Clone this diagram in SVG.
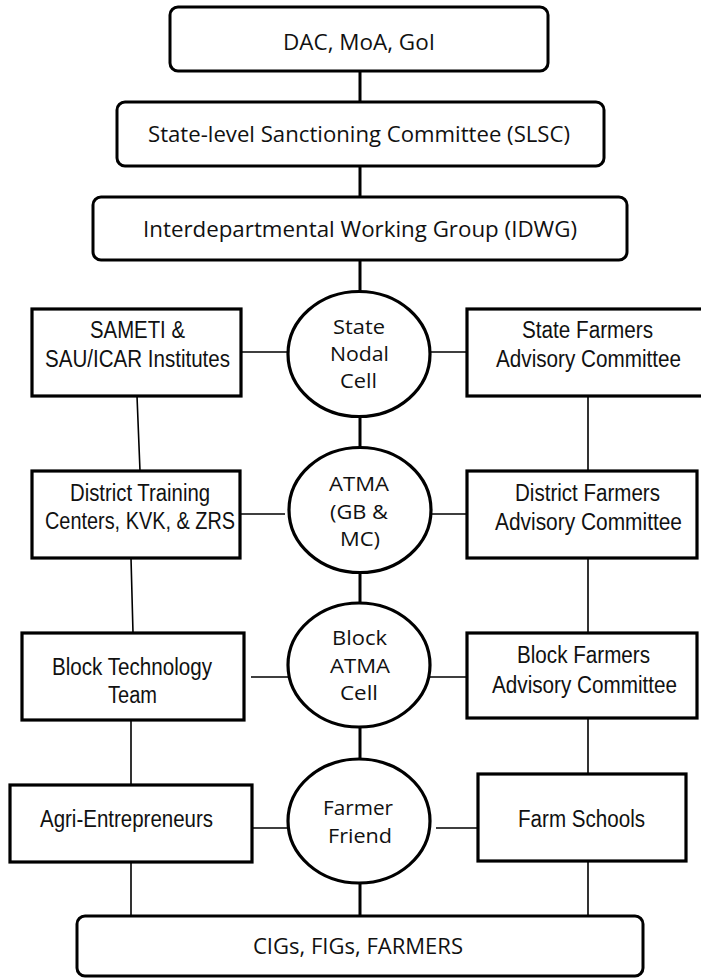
<svg xmlns="http://www.w3.org/2000/svg" width="701" height="978" viewBox="0 0 701 978">
<style>
.rbox{fill:#fff;stroke:#000;stroke-width:3}
.box{fill:#fff;stroke:#000;stroke-width:3.2}
.ell{fill:#fff;stroke:#000;stroke-width:3.2}
.main{stroke:#000;stroke-width:3;fill:none}
.side{stroke:#000;stroke-width:1.6;fill:none}
.c{font-family:"Open Sans","Noto Sans","DejaVu Sans",sans-serif;font-size:22px;fill:#111}
.e{font-family:"Open Sans","Noto Sans","DejaVu Sans",sans-serif;font-size:19.5px;fill:#111}
.a{font-family:"Liberation Sans",Arial,sans-serif;font-size:23px;fill:#111}
</style>
<rect width="701" height="978" fill="#fff"/>
<g id="connectors">
<path class="main" d="M360 71V102M360 166V197M360 260V292M360 417V448M360 573V603M360 727V759M360 883V916"/>
<path class="side" d="M241 352H288M430 352H467M240 514H285M431 514H467M251 677H288M430 677H467M252 828H288M436 828H478"/>
<path class="side" d="M137 396L140 471M131 558L133 633M131 720V785M131 862V916M588 396V471M588 558V633M588 718V774M588 861V916"/>
</g>
<g id="dac"><rect class="rbox" x="170" y="7" width="378" height="64" rx="8"/><text class="c" x="283" y="50" textLength="152" lengthAdjust="spacingAndGlyphs">DAC, MoA, GoI</text></g>
<g id="slsc"><rect class="rbox" x="117" y="102" width="487" height="64" rx="8"/><text class="c" x="148" y="142" textLength="422" lengthAdjust="spacingAndGlyphs">State-level Sanctioning Committee (SLSC)</text></g>
<g id="idwg"><rect class="rbox" x="93" y="197" width="534" height="63" rx="8"/><text class="c" x="143" y="237" textLength="434" lengthAdjust="spacingAndGlyphs">Interdepartmental Working Group (IDWG)</text></g>
<g id="sameti"><rect class="box" x="32" y="309" width="209" height="87"/><text class="a" x="90" y="338" textLength="95" lengthAdjust="spacingAndGlyphs">SAMETI &amp;</text><text class="a" x="45" y="367" textLength="185" lengthAdjust="spacingAndGlyphs">SAU/ICAR Institutes</text></g>
<g id="snc"><ellipse class="ell" cx="359" cy="354" rx="71" ry="62.5"/><text class="e" x="333" y="334" textLength="52" lengthAdjust="spacingAndGlyphs">State</text><text class="e" x="330" y="361" textLength="59" lengthAdjust="spacingAndGlyphs">Nodal</text><text class="e" x="340" y="388" textLength="37" lengthAdjust="spacingAndGlyphs">Cell</text></g>
<g id="sfac"><rect class="box" x="467" y="309" width="240" height="87"/><text class="a" x="522" y="338" textLength="131" lengthAdjust="spacingAndGlyphs">State Farmers</text><text class="a" x="496" y="367" textLength="185" lengthAdjust="spacingAndGlyphs">Advisory Committee</text></g>
<g id="dtc"><rect class="box" x="32" y="471" width="208" height="87"/><text class="a" x="70" y="501" textLength="140" lengthAdjust="spacingAndGlyphs">District Training</text><text class="a" x="45" y="529" textLength="190" lengthAdjust="spacingAndGlyphs">Centers, KVK, &amp; ZRS</text></g>
<g id="atma"><ellipse class="ell" cx="360" cy="510" rx="71" ry="62.5"/><text class="e" x="329" y="491" textLength="60" lengthAdjust="spacingAndGlyphs">ATMA</text><text class="e" x="330" y="519" textLength="58" lengthAdjust="spacingAndGlyphs">(GB &amp;</text><text class="e" x="340" y="546" textLength="40" lengthAdjust="spacingAndGlyphs">MC)</text></g>
<g id="dfac"><rect class="box" x="467" y="471" width="230" height="87"/><text class="a" x="515" y="501" textLength="145" lengthAdjust="spacingAndGlyphs">District Farmers</text><text class="a" x="495" y="530" textLength="187" lengthAdjust="spacingAndGlyphs">Advisory Committee</text></g>
<g id="btt"><rect class="box" x="22" y="633" width="222" height="87"/><text class="a" x="52" y="675" textLength="160" lengthAdjust="spacingAndGlyphs">Block Technology</text><text class="a" x="108" y="703" textLength="49" lengthAdjust="spacingAndGlyphs">Team</text></g>
<g id="bac"><ellipse class="ell" cx="359" cy="665" rx="71" ry="62"/><text class="e" x="332" y="645" textLength="55" lengthAdjust="spacingAndGlyphs">Block</text><text class="e" x="330" y="673" textLength="60" lengthAdjust="spacingAndGlyphs">ATMA</text><text class="e" x="340" y="700" textLength="38" lengthAdjust="spacingAndGlyphs">Cell</text></g>
<g id="bfac"><rect class="box" x="467" y="633" width="230" height="85"/><text class="a" x="517" y="663" textLength="133" lengthAdjust="spacingAndGlyphs">Block Farmers</text><text class="a" x="492" y="693" textLength="185" lengthAdjust="spacingAndGlyphs">Advisory Committee</text></g>
<g id="agri"><rect class="box" x="10" y="785" width="242" height="77"/><text class="a" x="40" y="827" textLength="173" lengthAdjust="spacingAndGlyphs">Agri-Entrepreneurs</text></g>
<g id="ff"><ellipse class="ell" cx="359" cy="821" rx="71" ry="62"/><text class="e" x="323" y="815" textLength="70" lengthAdjust="spacingAndGlyphs">Farmer</text><text class="e" x="328" y="843" textLength="64" lengthAdjust="spacingAndGlyphs">Friend</text></g>
<g id="fs"><rect class="box" x="478" y="774" width="208" height="87"/><text class="a" x="518" y="827" textLength="127" lengthAdjust="spacingAndGlyphs">Farm Schools</text></g>
<g id="cigs"><rect class="rbox" x="77" y="916" width="566" height="60" rx="8"/><text class="c" x="253" y="954" textLength="210" lengthAdjust="spacingAndGlyphs">CIGs, FIGs, FARMERS</text></g>
</svg>
